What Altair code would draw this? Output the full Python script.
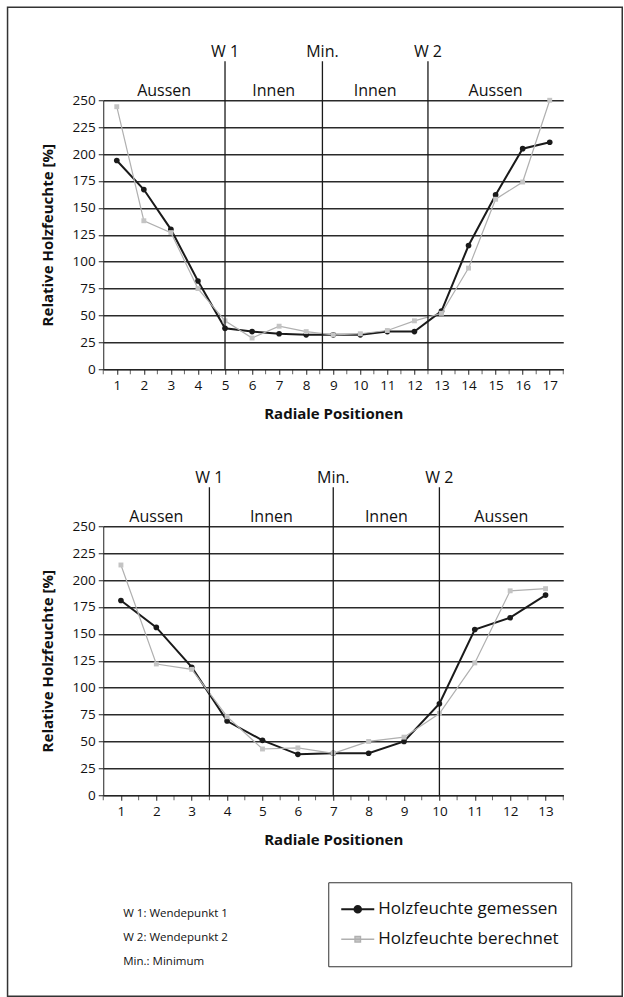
import altair as alt
import pandas as pd

FONT = "Open Sans"

series = ["Holzfeuchte gemessen", "Holzfeuchte berechnet"]
line_colors = ["#1a1a1a", "#b0b0b0"]
marker_fills = ["#1a1a1a", "#c4c4c4"]

# ---- top chart ----
pos_top = list(range(1, 18))
gemessen_top = [194, 167, 130, 82, 38, 35, 33, 32, 32, 32, 35, 35, 54, 115, 162, 205, 211]
berechnet_top = [244, 138, 127, 75, 45, 29, 40, 35, 32, 33, 36, 45, 52, 94, 158, 174, 250]
mark_pos_top = [5, 8.6, 12.5]
mark_lbl = ["W 1", "Min.", "W 2"]
region_pos_top = [2.75, 6.8, 10.55, 15]
region_lbl = ["Aussen", "Innen", "Innen", "Aussen"]

# ---- bottom chart ----
pos_bot = list(range(1, 14))
gemessen_bot = [181, 156, 119, 69, 51, 38, 39, 39, 50, 85, 154, 165, 186]
berechnet_bot = [214, 122, 117, 73, 43, 44, 39, 50, 54, 76, 123, 190, 192]
mark_pos_bot = [3.5, 7, 10]
region_pos_bot = [2, 5.25, 8.5, 11.75]

y_ticks = [0, 25, 50, 75, 100, 125, 150, 175, 200, 225, 250]
footnote = ["W 1: Wendepunkt 1", "W 2: Wendepunkt 2", "Min.: Minimum"]

W, H = 460, 269


def panel(pos, gem, ber, mpos, rpos, legend=False, frame=False):
    n = len(pos)
    df = pd.DataFrame({
        "pos": pos + pos,
        "val": gem + ber,
        "series": [series[0]] * n + [series[1]] * n,
    })
    between = [p - 0.5 for p in pos] + [pos[-1] + 0.5]
    xs = alt.Scale(domain=[pos[0] - 0.5, pos[-1] + 0.5], nice=False, zero=False)
    ys = alt.Scale(domain=[0, 250], nice=False, zero=True)
    xax = alt.Axis(values=pos, format="d",
                   grid=False, title="Radiale Positionen", titleFontSize=15,
                   titleFontWeight="bold", titlePadding=15, labelFontSize=13.5,
                   labelPadding=4, tickSize=5, tickColor="#222", domainColor="#222",
                   labelColor="#111", titleColor="#111", labelFlush=False,
                   labelOverlap=False)
    yax = alt.Axis(values=y_ticks, grid=True, gridColor="#2a2a2a", gridWidth=1.3,
                   title="Relative Holzfeuchte [%]", titleFontSize=15, titleFontWeight="bold",
                   titlePadding=17, labelFontSize=13.5, labelPadding=3, tickSize=5,
                   tickColor="#222", domainColor="#222", labelColor="#111",
                   titleColor="#111", labelOverlap=False, labelFlush=False)
    X = alt.X("pos:Q", scale=xs, axis=xax)
    Y = alt.Y("val:Q", scale=ys, axis=yax)
    base = alt.Chart(df)
    layers = []
    mdf = pd.DataFrame({"pos": mpos, "lbl": mark_lbl})
    rdf = pd.DataFrame({"pos": rpos, "lbl": region_lbl})
    bdf = pd.DataFrame({"pos": between})
    for i, s in enumerate(series):
        sub = base.transform_filter(alt.datum.series == s)
        layers.append(
            sub.mark_line(color=line_colors[i], strokeWidth=2 if i == 0 else 1.2).encode(x=X, y=Y)
        )
        layers.append(
            sub.mark_point(filled=True, opacity=1, shape="circle" if i == 0 else "square",
                           size=32 if i == 0 else 24, color=marker_fills[i]).encode(x=X, y=Y)
        )
    # minor ticks between the positions
    layers.append(
        alt.Chart(bdf).mark_tick(color="#222", thickness=1, size=5, orient="vertical").encode(
            x=X, y=alt.value(H + 2.5))
    )
    layers.append(
        alt.Chart(mdf).mark_rule(color="#1a1a1a", strokeWidth=1.3).encode(
            x=X, y=alt.value(-39), y2=alt.value(H))
    )
    layers.append(
        alt.Chart(mdf).mark_text(fontSize=16, color="#111", baseline="middle", align="center").encode(
            x=X, y=alt.value(-48), text="lbl:N")
    )
    layers.append(
        alt.Chart(rdf).mark_text(fontSize=16, color="#111", baseline="middle", align="center").encode(
            x=X, y=alt.value(-9), text="lbl:N")
    )
    if frame:
        layers.append(
            alt.Chart(pd.DataFrame({"a": [0]})).mark_rect(
                fillOpacity=0, stroke="#333", strokeWidth=1.5
            ).encode(x=alt.value(-95.7), x2=alt.value(519), y=alt.value(-93), y2=alt.value(896))
        )
    if legend:
        p_circle = "M-1,0L1,0M-0.2,0A0.2,0.2,0,1,1,0.2,0A0.2,0.2,0,1,1,-0.2,0Z"
        p_square = "M-1,0L1,0M-0.17,-0.17L0.17,-0.17L0.17,0.17L-0.17,0.17Z"
        leg = alt.Legend(title=None, orient="none", legendX=225, legendY=782,
                         symbolSize=1089, symbolOpacity=1, labelFontSize=17,
                         labelColor="#111", labelFont=FONT, strokeColor="#333",
                         fillColor="white", padding=12, clipHeight=30, rowPadding=0,
                         labelOffset=3, labelLimit=400)
        layers.append(
            base.transform_filter("false").mark_point(filled=True).encode(
                shape=alt.Shape("series:N", scale=alt.Scale(domain=series, range=[p_circle, p_square]), legend=leg),
                stroke=alt.Stroke("series:N", scale=alt.Scale(domain=series, range=line_colors), legend=leg),
                fill=alt.Fill("series:N", scale=alt.Scale(domain=series, range=marker_fills), legend=leg),
                strokeWidth=alt.StrokeWidth("series:N", scale=alt.Scale(domain=series, range=[2, 1.3]), legend=leg),
            )
        )
        layers.append(
            alt.Chart(pd.DataFrame({"t": ["\n".join(footnote)]})).mark_text(
                fontSize=11.5, align="left", baseline="middle", lineBreak="\n",
                lineHeight=24, color="#111").encode(
                x=alt.value(20), y=alt.value(388), text="t:N")
        )
    return alt.layer(*layers).properties(width=W, height=H)


top = panel(pos_top, gemessen_top, berechnet_top, mark_pos_top, region_pos_top, frame=True)
bot = panel(pos_bot, gemessen_bot, berechnet_bot, mark_pos_bot, region_pos_bot, legend=True)

chart = alt.vconcat(top, bot, spacing=157, bounds="flush").properties(
    padding={"left": 6.25, "top": 6.25, "right": 0, "bottom": 0},
    background="white",
).configure(font=FONT).configure_view(stroke=None)

chart.save("out.html", embed_options={"renderer": "svg", "actions": False})
